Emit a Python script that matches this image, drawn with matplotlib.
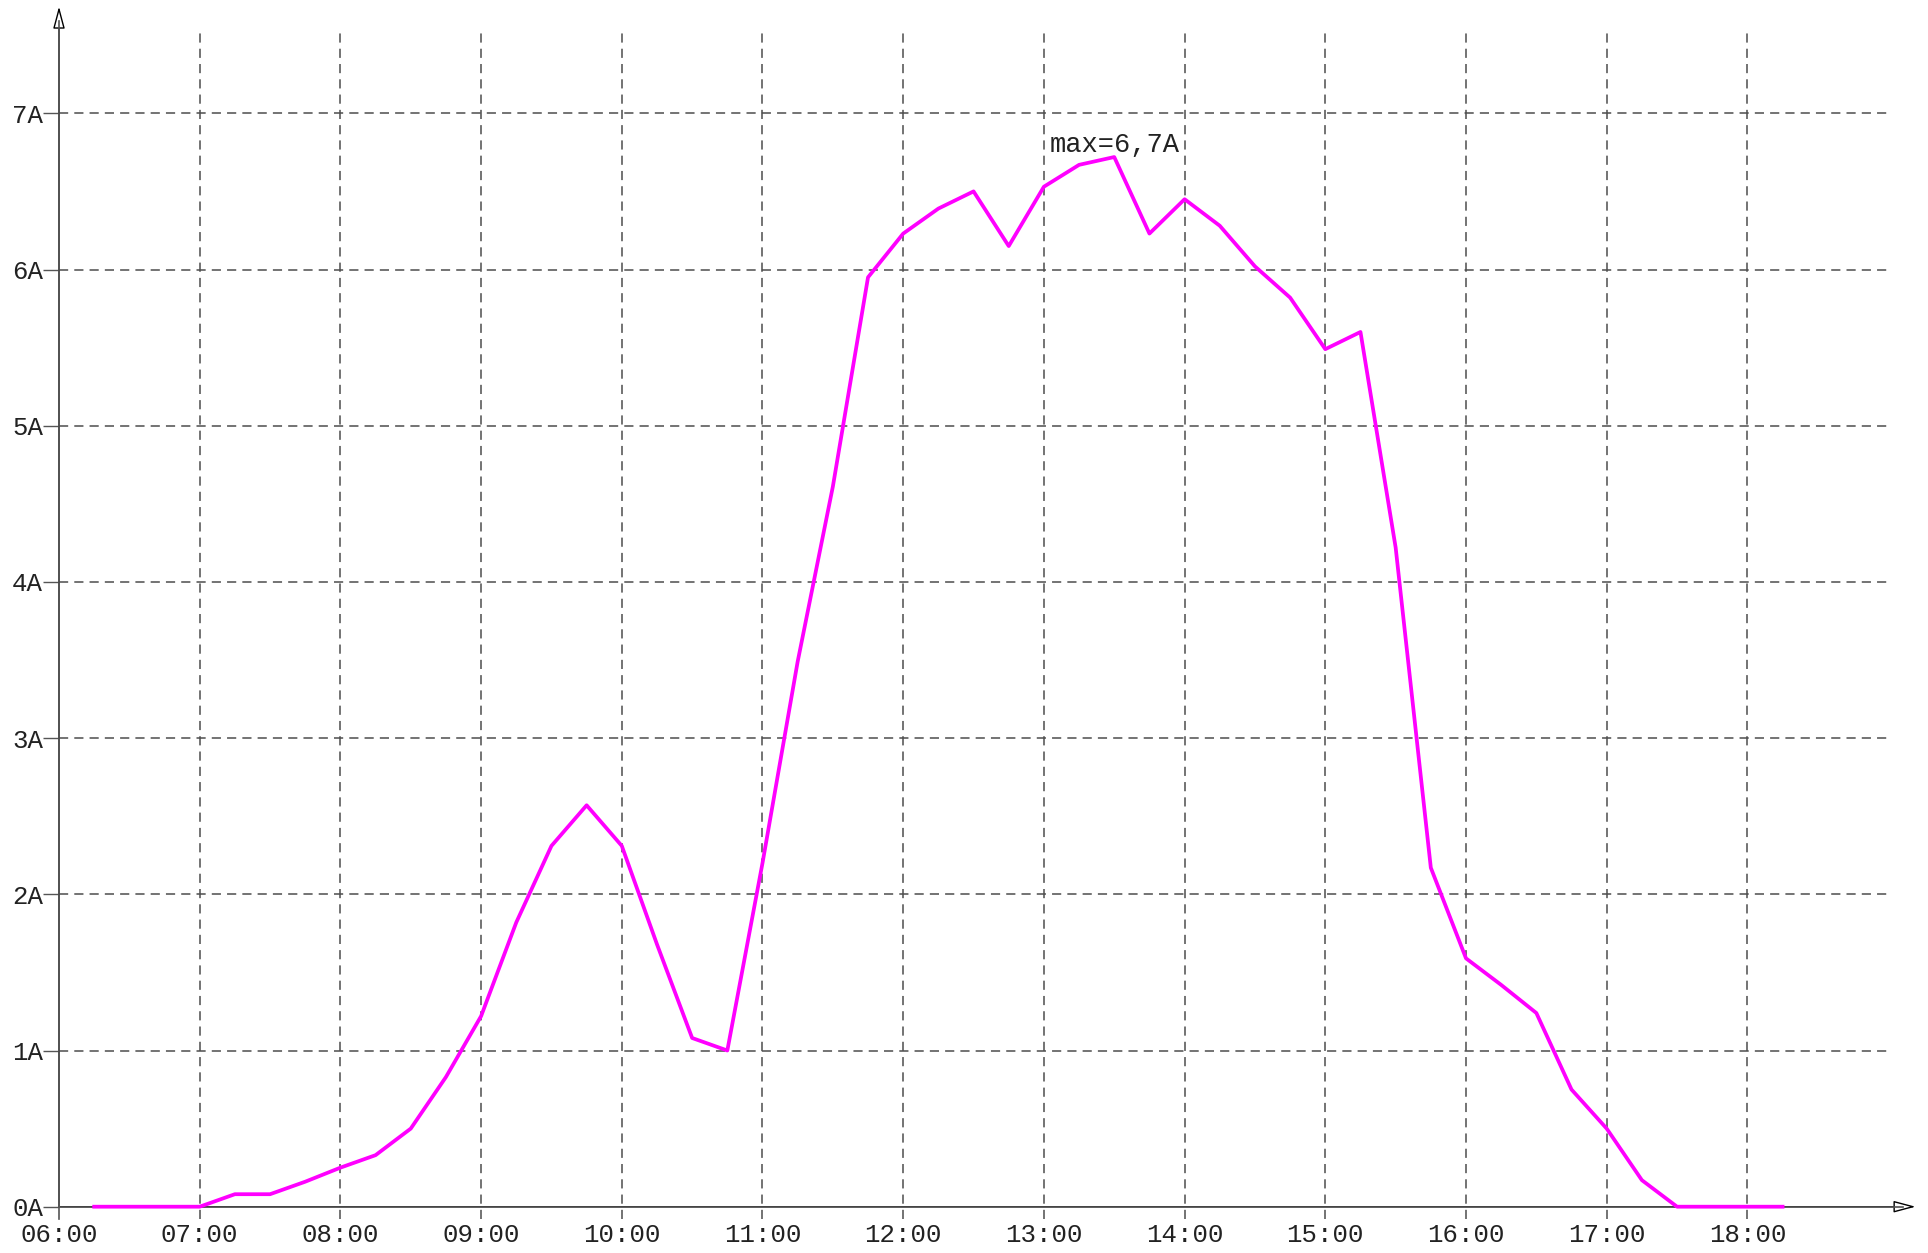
import matplotlib
matplotlib.use("Agg")
import matplotlib.pyplot as plt
import numpy as np

times = [
    "06:15", "06:30", "06:45", "07:00", "07:15", "07:30", "07:45", "08:00",
    "08:15", "08:30", "08:45", "09:00", "09:15", "09:30", "09:45", "10:00",
    "10:15", "10:30", "10:45", "11:00", "11:15", "11:30", "11:45", "12:00",
    "12:15", "12:30", "12:45", "13:00", "13:15", "13:30", "13:45", "14:00",
    "14:15", "14:30", "14:45", "15:00", "15:15", "15:30", "15:45", "16:00",
    "16:15", "16:30", "16:45", "17:00", "17:15", "17:30", "17:45", "18:00",
    "18:15",
]
current = [
    0.0, 0.0, 0.0, 0.0, 0.08, 0.08, 0.16, 0.25,
    0.33, 0.50, 0.83, 1.22, 1.82, 2.31, 2.57, 2.31,
    1.68, 1.08, 1.00, 2.20, 3.49, 4.61, 5.95, 6.23,
    6.39, 6.50, 6.15, 6.53, 6.67, 6.72, 6.23, 6.45,
    6.28, 6.02, 5.82, 5.49, 5.60, 4.22, 2.17, 1.59,
    1.42, 1.24, 0.75, 0.50, 0.17, 0.0, 0.0, 0.0,
    0.0,
]
x_ticks = [f"{h:02d}:00" for h in range(6, 19)]
y_ticks = [f"{a}A" for a in range(0, 8)]
max_label = "max=6,7A"


def to_hours(s):
    h, m = s.split(":")
    return int(h) + int(m) / 60


hours = np.array([to_hours(t) for t in times])
font = "Liberation Mono"
grid_color = "#4d4d4d"
dash = (0, (6, 4))

fig = plt.figure(figsize=(19.28, 12.53), dpi=100)
W, H = 1928, 1253
x0, y0 = 59, 1206.7        # pixel position of (06:00, 0A)
px_hour, px_amp = 140.7, 156.2
right, top = 1917, 5
ax = fig.add_axes([x0 / W, (H - y0) / H, (right - x0) / W, (y0 - top) / H])
xmax = 6 + (right - x0) / px_hour
ymax = (y0 - top) / px_amp
ax.set_xlim(6, xmax)
ax.set_ylim(0, ymax)
for s in ax.spines.values():
    s.set_visible(False)

tick_x = 12 / px_amp  # tick overhang below x axis in data units
grid_end_x = 6 + (1890 - x0) / px_hour
grid_top = (y0 - 33) / px_amp

# grid
for h in range(7, 19):
    ax.plot([h, h], [-tick_x, grid_top], color=grid_color, lw=1.1,
            linestyle=dash, clip_on=False, zorder=1)
for a in range(1, 8):
    ax.plot([6, grid_end_x], [a, a], color=grid_color, lw=1.1,
            linestyle=dash, clip_on=False, zorder=1)

# axes with open arrow heads
ax.plot([6, 6], [-tick_x, 0], color="#555555", lw=1.2, clip_on=False, zorder=2)
arrow = dict(arrowstyle="-|>,head_length=1.35,head_width=0.36", fc="white",
             ec="black", lw=1.0, mutation_scale=10, shrinkA=0, shrinkB=0)
ax.annotate("", xy=(6, ymax - 0.01), xytext=(6, 0), arrowprops=arrow,
            annotation_clip=False, zorder=2)
ax.annotate("", xy=(xmax - 0.01, 0), xytext=(6, 0), arrowprops=arrow,
            annotation_clip=False, zorder=2)
ax.plot([6, 6], [0, ymax - 0.1], color="#555555", lw=1.2, clip_on=False, zorder=2)
ax.plot([6, xmax - 0.1], [0, 0], color="#555555", lw=1.2, clip_on=False, zorder=2)

# ticks
ax.set_yticks(range(0, 8))
ax.set_yticklabels(y_ticks, fontfamily=font, fontsize=18.5, color="#222222")
ax.tick_params(axis="y", length=11.5, width=1, color="#555555", pad=0)
ax.set_xticks(range(6, 19))
ax.set_xticklabels(x_ticks, fontfamily=font, fontsize=18.5, color="#222222")
ax.tick_params(axis="x", length=0, pad=12)

# data
ax.plot(hours, current, color="#ff00ff", lw=2.7, zorder=3, clip_on=False)
ax.text(13.043, 6.75, max_label, ha="left", va="baseline",
        fontfamily=font, fontsize=19.5, color="#222222")

fig.savefig("out.png", dpi=100)
